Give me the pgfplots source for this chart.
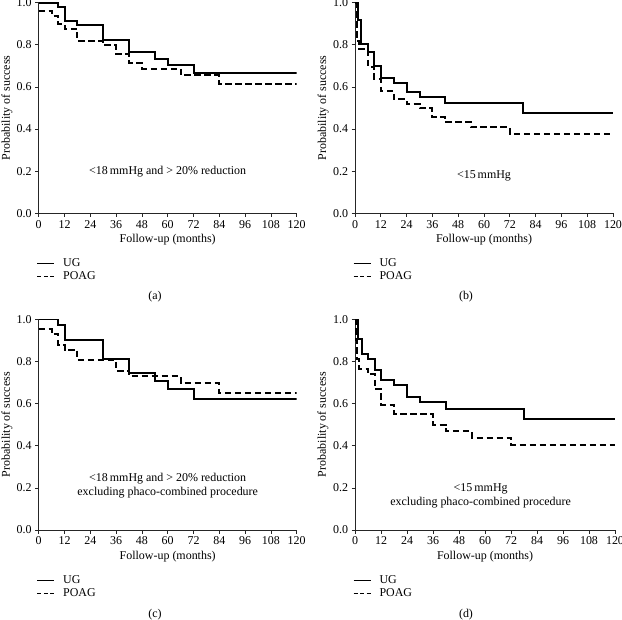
\documentclass[border=0pt]{standalone}
\usepackage{fontspec}
\setmainfont{Liberation Serif}
\usepackage{pgfplots}
\pgfplotsset{compat=1.18}
\newcommand{\kmfont}{\fontsize{12}{13}\selectfont}
\pgfplotsset{
  kmstyle/.style={
    scale only axis, width=258bp, height=210.6bp,
    anchor=south west,
    xmin=0, xmax=120, ymin=0, ymax=1,
    axis lines=left, axis line style={-, line width=0.7bp, black!85},
    xtick={0,12,...,120}, ytick={0,0.2,...,1.0},
    tick align=outside, major tick length=3.5bp,
    tick style={line width=0.7bp, black!85},
    /pgf/number format/assume math mode=true,
    yticklabel style={/pgf/number format/fixed, /pgf/number format/fixed zerofill, /pgf/number format/precision=1},
    ticklabel style={font=\kmfont},
    label style={font=\kmfont},
    xlabel={Follow-up (months)},
    ylabel={Probability of success},
    every axis x label/.style={at={(axis description cs:0.5,-0.127)}, anchor=center, font=\kmfont},
    every axis y label/.style={at={(axis description cs:-0.123,0.5)}, rotate=90, anchor=center, font=\kmfont},
    legend image code/.code={\draw[#1] (0bp,0bp) -- (17bp,0bp);},
    legend style={draw=none, fill=none, at={(axis description cs:0,0)}, anchor=north west,
      yshift=-44bp, xshift=-2bp, inner sep=0pt, row sep=0.5bp,
      font=\kmfont, nodes={inner xsep=8.5bp, inner ysep=1.5bp}},
    legend cell align=left,
    ug/.style={black, line width=2bp, const plot, no marks, forget plot},
    poag/.style={black, line width=2bp, const plot, no marks, dash pattern=on 6.5bp off 3.5bp, forget plot},
  }
}
\begin{document}
\begin{tikzpicture}[x=1bp,y=1bp]
\path[use as bounding box] (0bp,0bp) rectangle (622bp,620bp);
% (a)
\begin{axis}[kmstyle, at={(38.7bp,406.7bp)}]
\addplot[ug] coordinates {(0,1) (9,0.981) (12,0.914) (18,0.894) (30,0.823) (42,0.764) (54,0.733) (60,0.703) (72,0.665) (120,0.665)};
\addplot[poag] coordinates {(0,0.962) (6,0.938) (9,0.900) (12,0.877) (18,0.818) (30,0.799) (36,0.755) (42,0.712) (48,0.687) (66,0.655) (84,0.614) (120,0.614)};
\addlegendimage{black, line width=0.8bp}\addlegendentry{UG}
\addlegendimage{black, line width=0.8bp, dash pattern=on 4bp off 2.5bp}\addlegendentry{POAG}
\node[font=\kmfont] at (axis cs:60,0.198) {<18\,mmHg and > 20\% reduction};
\end{axis}
% (b)
\begin{axis}[kmstyle, at={(355bp,406.7bp)}]
\addplot[ug] coordinates {(0,1) (1.5,0.920) (3,0.802) (6,0.765) (9,0.700) (12,0.641) (18,0.617) (24,0.574) (30,0.551) (42,0.522) (78,0.478) (120,0.478)};
\addplot[poag] coordinates {(0,1) (0.7,0.820) (2,0.780) (6,0.695) (9,0.639) (12,0.581) (18,0.541) (24,0.519) (30,0.498) (36,0.456) (42,0.432) (54,0.408) (72,0.377) (120,0.377)};
\addlegendimage{black, line width=0.8bp}\addlegendentry{UG}
\addlegendimage{black, line width=0.8bp, dash pattern=on 4bp off 2.5bp}\addlegendentry{POAG}
\node[font=\kmfont] at (axis cs:60,0.18) {<15\,mmHg};
\end{axis}
% (c)
\begin{axis}[kmstyle, at={(38.7bp,90bp)}]
\addplot[ug] coordinates {(0,1) (9,0.975) (12,0.900) (30,0.810) (42,0.744) (54,0.706) (60,0.669) (72,0.620) (120,0.620)};
\addplot[poag] coordinates {(0,0.953) (6,0.930) (9,0.880) (12,0.857) (18,0.807) (36,0.755) (42,0.729) (66,0.696) (84,0.650) (120,0.650)};
\addlegendimage{black, line width=0.8bp}\addlegendentry{UG}
\addlegendimage{black, line width=0.8bp, dash pattern=on 4bp off 2.5bp}\addlegendentry{POAG}
\node[font=\fontsize{12}{14.5}\selectfont, align=center] at (axis cs:60,0.211) {<18\,mmHg and > 20\% reduction\\excluding phaco-combined procedure};
\end{axis}
% (d)
\begin{axis}[kmstyle, at={(355bp,90bp)}, width=260bp]
\addplot[ug] coordinates {(0,1) (1.5,0.905) (3,0.834) (6,0.810) (9,0.759) (12,0.714) (18,0.690) (24,0.633) (30,0.606) (42,0.576) (78,0.528) (120,0.528)};
\addplot[poag] coordinates {(0,1) (0.5,0.900) (1,0.812) (2,0.766) (6,0.739) (9,0.668) (12,0.595) (18,0.549) (36,0.500) (42,0.468) (54,0.438) (72,0.405) (120,0.405)};
\addlegendimage{black, line width=0.8bp}\addlegendentry{UG}
\addlegendimage{black, line width=0.8bp, dash pattern=on 4bp off 2.5bp}\addlegendentry{POAG}
\node[font=\fontsize{12}{14.5}\selectfont, align=center] at (axis cs:58,0.161) {<15\,mmHg\\excluding phaco-combined procedure};
\end{axis}
\node[font=\kmfont] at (155bp,323bp) {(a)};
\node[font=\kmfont] at (466bp,323bp) {(b)};
\node[font=\kmfont] at (155bp,5.5bp) {(c)};
\node[font=\kmfont] at (466bp,5.5bp) {(d)};
\end{tikzpicture}
\end{document}
